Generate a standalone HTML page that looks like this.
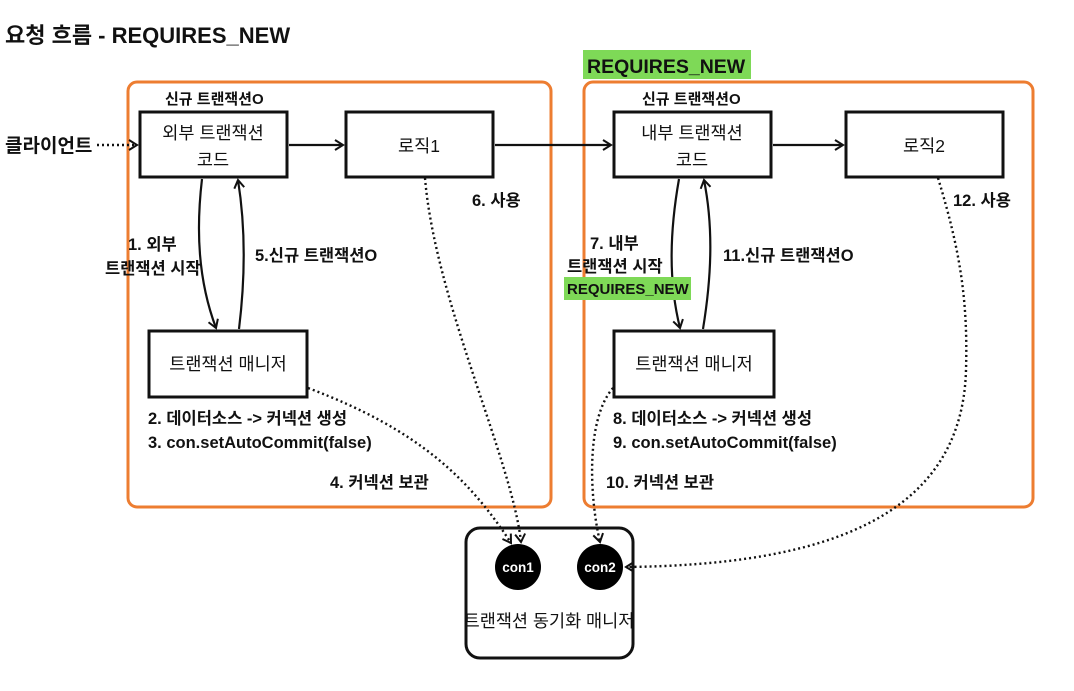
<!DOCTYPE html>
<html><head><meta charset="utf-8">
<style>
html,body{margin:0;padding:0;background:#fff;}
body{width:1074px;height:686px;overflow:hidden;}
text{font-family:"Liberation Sans","Noto Sans CJK KR",sans-serif;}
</style></head><body>
<svg width="1074" height="686" viewBox="0 0 1074 686" xmlns="http://www.w3.org/2000/svg">
<defs>
<marker id="ah" markerWidth="12" markerHeight="12" refX="9" refY="6" orient="auto" markerUnits="userSpaceOnUse">
<path d="M1,1 L9,6 L1,11" fill="none" stroke="#111" stroke-width="2"/>
</marker>
</defs>
<g fill="#111">
<text x="5" y="43" font-size="22" font-weight="bold">요청 흐름 - REQUIRES_NEW</text>
</g>

<rect x="128" y="82" width="423" height="425" rx="9" fill="none" stroke="#ED7D31" stroke-width="3"/>
<rect x="584" y="82" width="449" height="425" rx="9" fill="none" stroke="#ED7D31" stroke-width="3"/>

<rect x="583" y="50" width="168" height="29" fill="#7ED957"/>
<text x="587" y="73" font-size="19.5" font-weight="bold" fill="#111">REQUIRES_NEW</text>

<g fill="#111" font-size="15" font-weight="bold">
<text x="165" y="104">신규 트랜잭션O</text>
<text x="642" y="104">신규 트랜잭션O</text>
</g>

<g fill="#fff" stroke="#111" stroke-width="3">
<rect x="140" y="112" width="147" height="65"/>
<rect x="346" y="112" width="147" height="65"/>
<rect x="614" y="112" width="157" height="65"/>
<rect x="846" y="112" width="157" height="65"/>
<rect x="149" y="331" width="158" height="66"/>
<rect x="614" y="331" width="160" height="66"/>
<rect x="466" y="528" width="167" height="130" rx="14"/>
</g>
<g font-size="17.5" text-anchor="middle" fill="#111">
<text x="213" y="139">외부 트랜잭션</text>
<text x="213" y="166">코드</text>
<text x="419" y="152">로직1</text>
<text x="692" y="139">내부 트랜잭션</text>
<text x="692" y="166">코드</text>
<text x="924" y="152">로직2</text>
<text x="228" y="370">트랜잭션 매니저</text>
<text x="694" y="370">트랜잭션 매니저</text>
<text x="549" y="627">트랜잭션 동기화 매니저</text>
</g>
<text x="5" y="152" font-size="19" font-weight="bold" fill="#111">클라이언트</text>

<g stroke="#111" stroke-width="2.2" fill="none" marker-end="url(#ah)">
<line x1="289" y1="145" x2="343" y2="145"/>
<line x1="495" y1="145" x2="611" y2="145"/>
<line x1="773" y1="145" x2="843" y2="145"/>
<path d="M202,179 C196,230 198,280 216,328"/>
<path d="M239,329 C245,280 246,230 238,180"/>
<path d="M679,179 C670,230 668,280 680,328"/>
<path d="M703,329 C711,280 714,230 704,180"/>
</g>
<g stroke="#111" stroke-width="2.4" fill="none" stroke-dasharray="2,3" marker-end="url(#ah)">
<line x1="97" y1="145" x2="137" y2="145"/>
<path d="M308,388 C420,430 470,480 511,543"/>
<path d="M425,178 C435,300 512,460 521,542"/>
<path d="M613,388 C585,420 590,500 600,542"/>
<path d="M938,178 C960,250 968,300 966,370 C962,520 820,565 626,567"/>
</g>

<circle cx="518" cy="567" r="23" fill="#000"/>
<circle cx="600" cy="567" r="23" fill="#000"/>
<text x="518" y="572" font-size="13.5" font-weight="bold" text-anchor="middle" style="fill:#fff">con1</text>
<text x="600" y="572" font-size="13.5" font-weight="bold" text-anchor="middle" style="fill:#fff">con2</text>

<g font-size="16.5" font-weight="bold" fill="#111">
<text x="472" y="206">6. 사용</text>
<text x="953" y="206">12. 사용</text>
<text x="128" y="250">1. 외부</text>
<text x="105" y="274">트랜잭션 시작</text>
<text x="255" y="261">5.신규 트랜잭션O</text>
<text x="590" y="249">7. 내부</text>
<text x="567" y="272">트랜잭션 시작</text>
<text x="723" y="261">11.신규 트랜잭션O</text>
<text x="148" y="424">2. 데이터소스 -&gt; 커넥션 생성</text>
<text x="148" y="448">3. con.setAutoCommit(false)</text>
<text x="330" y="488">4. 커넥션 보관</text>
<text x="613" y="424">8. 데이터소스 -&gt; 커넥션 생성</text>
<text x="613" y="448">9. con.setAutoCommit(false)</text>
<text x="606" y="488">10. 커넥션 보관</text>
</g>
<rect x="564" y="277" width="127" height="23" fill="#7ED957"/>
<text x="567" y="294" font-size="15" font-weight="bold" fill="#111">REQUIRES_NEW</text>
</svg>
</body></html>
